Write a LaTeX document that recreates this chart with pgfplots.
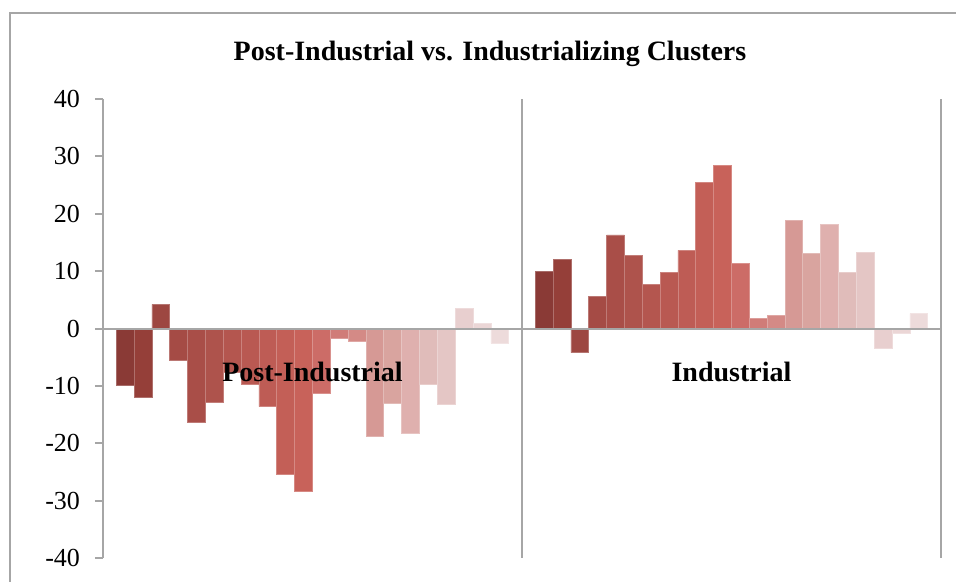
\documentclass[border=0pt]{standalone}
\usepackage{pgfplots}
\pgfplotsset{compat=1.18}
\usepackage{fontspec}
\setmainfont{Liberation Serif}
\definecolor{axgray}{HTML}{A6A6A6}
\definecolor{c1}{HTML}{8A3A36}
\definecolor{c2}{HTML}{953F39}
\definecolor{c3}{HTML}{9D4741}
\definecolor{c4}{HTML}{A54B45}
\definecolor{c5}{HTML}{A94E48}
\definecolor{c6}{HTML}{AE534C}
\definecolor{c7}{HTML}{B4564F}
\definecolor{c8}{HTML}{B95952}
\definecolor{c9}{HTML}{BE5C55}
\definecolor{c10}{HTML}{C35F57}
\definecolor{c11}{HTML}{C8625A}
\definecolor{c12}{HTML}{CC6C67}
\definecolor{c13}{HTML}{D07C78}
\definecolor{c14}{HTML}{D48A86}
\definecolor{c15}{HTML}{D69995}
\definecolor{c16}{HTML}{D9A49F}
\definecolor{c17}{HTML}{DFB0AE}
\definecolor{c18}{HTML}{E0BCBA}
\definecolor{c19}{HTML}{E4C6C5}
\definecolor{c20}{HTML}{E8CFCF}
\definecolor{c21}{HTML}{EBD6D6}
\definecolor{c22}{HTML}{EDDBDB}
\begin{document}
\begin{tikzpicture}
\useasboundingbox (0,0) rectangle (478pt,291pt);
\draw[axgray, line width=1.3pt] (5pt,-2pt) -- (5pt,284.5pt) -- (480pt,284.5pt);
\node[font=\fontsize{14}{16}\selectfont\bfseries] at (245pt,264pt) {Post-Industrial vs. Industrializing Clusters};
\begin{axis}[
  at={(51.5pt,12pt)}, anchor=south west,
  width=419pt, height=229.5pt, scale only axis,
  xmin=0.5, xmax=2.5, ymin=-40, ymax=40,
  xtick=\empty,
  ytick={-40,-30,...,40},
  separate axis lines,
  axis y line*=left,
  axis x line*=bottom,
  x axis line style={draw=none},
  y axis line style={axgray, line width=1pt, -},
  ytick style={axgray, line width=1pt},
  tick align=outside,
  major tick length=4pt,
  yticklabel style={font=\fontsize{13}{15}\selectfont, xshift=-4pt},
  /pgf/number format/assume math mode=true,
  ybar=0pt, bar width=8.92pt,
  clip=false,
]
\addplot[fill=c1, draw=c1!75!white, line width=0.4pt] coordinates {(1,-9.9) (2,9.9)};
\addplot[fill=c2, draw=c2!75!white, line width=0.4pt] coordinates {(1,-12.0) (2,12.0)};
\addplot[fill=c3, draw=c3!75!white, line width=0.4pt] coordinates {(1,4.2) (2,-4.2)};
\addplot[fill=c4, draw=c4!75!white, line width=0.4pt] coordinates {(1,-5.6) (2,5.6)};
\addplot[fill=c5, draw=c5!75!white, line width=0.4pt] coordinates {(1,-16.3) (2,16.3)};
\addplot[fill=c6, draw=c6!75!white, line width=0.4pt] coordinates {(1,-12.8) (2,12.8)};
\addplot[fill=c7, draw=c7!75!white, line width=0.4pt] coordinates {(1,-7.6) (2,7.6)};
\addplot[fill=c8, draw=c8!75!white, line width=0.4pt] coordinates {(1,-9.7) (2,9.7)};
\addplot[fill=c9, draw=c9!75!white, line width=0.4pt] coordinates {(1,-13.6) (2,13.6)};
\addplot[fill=c10, draw=c10!75!white, line width=0.4pt] coordinates {(1,-25.4) (2,25.4)};
\addplot[fill=c11, draw=c11!75!white, line width=0.4pt] coordinates {(1,-28.4) (2,28.4)};
\addplot[fill=c12, draw=c12!75!white, line width=0.4pt] coordinates {(1,-11.3) (2,11.3)};
\addplot[fill=c13, draw=c13!75!white, line width=0.4pt] coordinates {(1,-1.7) (2,1.7)};
\addplot[fill=c14, draw=c14!75!white, line width=0.4pt] coordinates {(1,-2.2) (2,2.2)};
\addplot[fill=c15, draw=c15!75!white, line width=0.4pt] coordinates {(1,-18.8) (2,18.8)};
\addplot[fill=c16, draw=c16!75!white, line width=0.4pt] coordinates {(1,-13.1) (2,13.1)};
\addplot[fill=c17, draw=c17!75!white, line width=0.4pt] coordinates {(1,-18.2) (2,18.2)};
\addplot[fill=c18, draw=c18!75!white, line width=0.4pt] coordinates {(1,-9.7) (2,9.7)};
\addplot[fill=c19, draw=c19!75!white, line width=0.4pt] coordinates {(1,-13.3) (2,13.3)};
\addplot[fill=c20, draw=c20!75!white, line width=0.4pt] coordinates {(1,3.5) (2,-3.5)};
\addplot[fill=c21, draw=c21!75!white, line width=0.4pt] coordinates {(1,0.9) (2,-0.9)};
\addplot[fill=c22, draw=c22!75!white, line width=0.4pt] coordinates {(1,-2.6) (2,2.6)};
\draw[axgray, line width=1pt] (axis cs:0.5,0) -- (axis cs:2.5,0);
\draw[axgray, line width=1pt] (axis cs:1.5,-40) -- (axis cs:1.5,40);
\draw[axgray, line width=1pt] (axis cs:2.5,-40) -- (axis cs:2.5,40);
\node[font=\fontsize{14}{16}\selectfont\bfseries] at (axis cs:1,-7.5) {Post-Industrial};
\node[font=\fontsize{14}{16}\selectfont\bfseries] at (axis cs:2,-7.5) {Industrial};
\end{axis}
\end{tikzpicture}
\end{document}
